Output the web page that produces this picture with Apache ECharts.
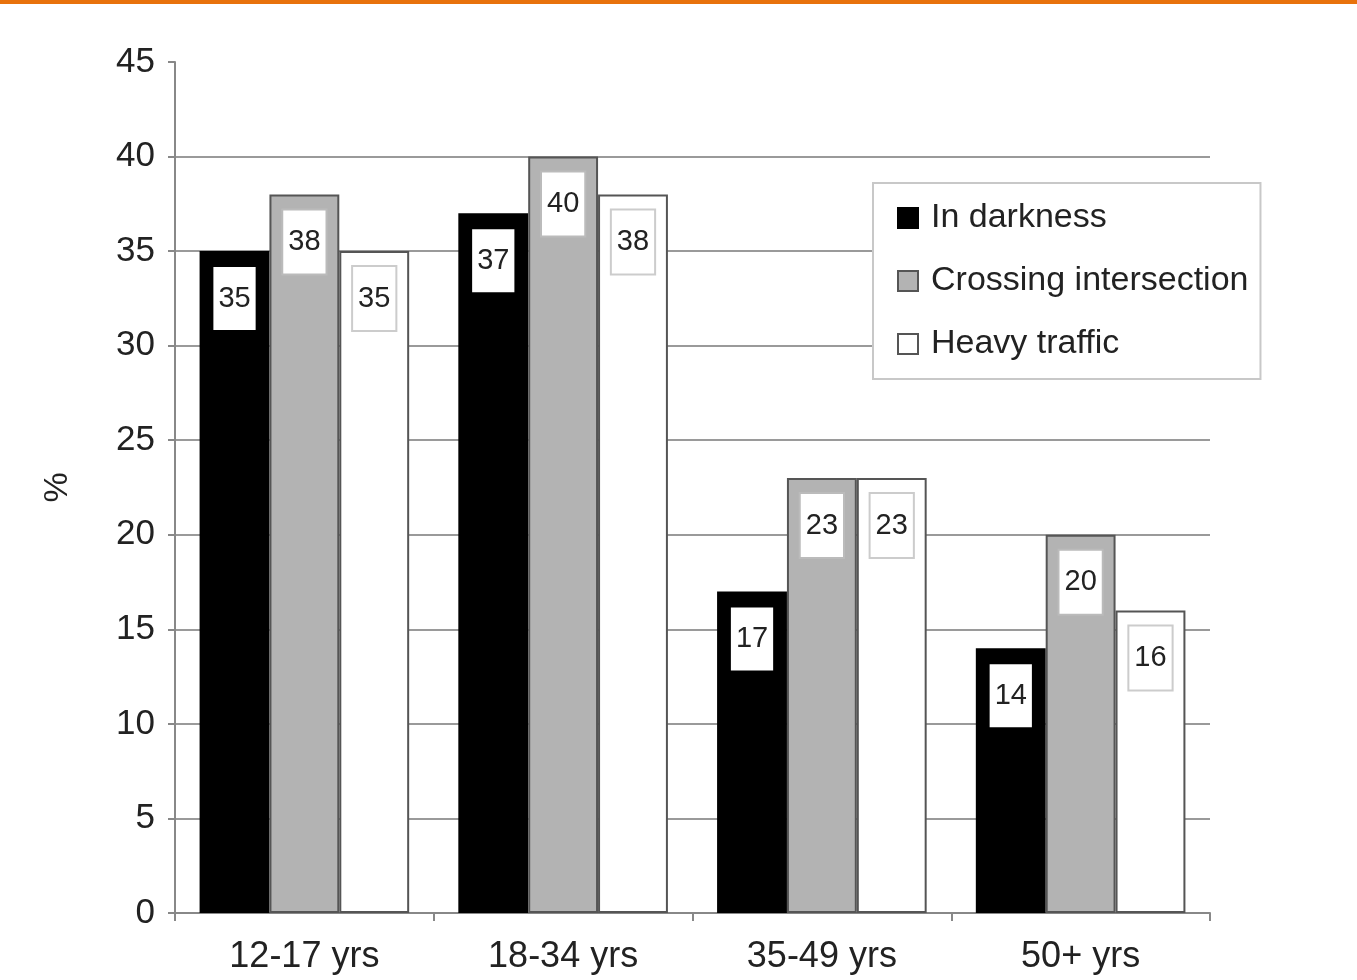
<!DOCTYPE html>
<html>
<head>
<meta charset="utf-8">
<script src="https://cdn.jsdelivr.net/npm/echarts@6/dist/echarts.min.js"></script>
<style>
  html, body { margin: 0; padding: 0; background: #fff; }
</style>
</head>
<body>
<div id="main" style="width:1357px;height:980px"></div>
<script>
// categories and values
var categories = ['12-17 yrs', '18-34 yrs', '35-49 yrs', '50+ yrs']
var darkness = [35, 37, 17, 14] // In darkness
var crossing = [38, 40, 23, 20] // Crossing intersection
var traffic = [35, 38, 23, 16] // Heavy traffic
var yTicks = [0, 5, 10, 15, 20, 25, 30, 35, 40, 45]

var font = 'Liberation Sans, Arial, sans-serif'

// no grid line at the top tick
var gridColors = yTicks.map(function (v, i) {
  return i === yTicks.length - 1 ? 'transparent' : '#9a9a9a'
})

function labelStyle (border) {
  return {
    show: true,
    position: 'insideTop',
    distance: 16,
    color: '#222',
    fontFamily: font,
    fontSize: 29,
    backgroundColor: '#fff',
    borderColor: border,
    borderWidth: border === 'transparent' ? 0 : 2,
    padding: [17, 5, 17, 5]
  }
}

var myChart = echarts.init(document.getElementById('main'))
var option = {
  animation: false,
  backgroundColor: '#fff',
  graphic: [
    {
      type: 'rect',
      left: 0,
      top: 0,
      shape: { width: 1357, height: 4 },
      style: { fill: '#e8720c' }
    }
  ],
  grid: {
    left: 175,
    right: 147,
    top: 62,
    bottom: 67
  },
  legend: {
    orient: 'vertical',
    left: 873,
    top: 183,
    width: 389,
    padding: [15, 12, 15, 24],
    itemGap: 23,
    itemWidth: 20,
    itemHeight: 20,
    backgroundColor: '#fff',
    borderColor: '#c8c8c8',
    borderWidth: 2,
    icon: 'rect',
    textStyle: {
      color: '#222',
      fontFamily: font,
      fontSize: 34,
      lineHeight: 40,
      padding: [0, 0, 0, 8]
    },
    data: ['In darkness', 'Crossing intersection', 'Heavy traffic']
  },
  xAxis: {
    type: 'category',
    data: categories,
    axisLine: { lineStyle: { color: '#888', width: 2 } },
    axisTick: { show: true, length: 8, lineStyle: { color: '#888', width: 2 } },
    axisLabel: {
      color: '#222',
      fontFamily: font,
      fontSize: 36,
      margin: 26
    }
  },
  yAxis: {
    type: 'value',
    min: yTicks[0],
    max: yTicks[yTicks.length - 1],
    interval: 5,
    name: '%',
    nameLocation: 'middle',
    nameRotate: 90,
    nameGap: 100,
    nameTextStyle: { color: '#222', fontFamily: font, fontSize: 34 },
    axisLine: { show: true, lineStyle: { color: '#888', width: 2 } },
    axisTick: { show: true, length: 7, lineStyle: { color: '#888', width: 2 } },
    axisLabel: {
      color: '#222',
      fontFamily: font,
      fontSize: 35,
      margin: 20
    },
    splitLine: { show: true, lineStyle: { color: gridColors, width: 2 } }
  },
  series: [
    {
      name: 'In darkness',
      type: 'bar',
      barGap: '0%',
      barCategoryGap: '19%',
      itemStyle: { color: '#000', borderColor: '#000', borderWidth: 2 },
      label: labelStyle('transparent'),
      data: darkness
    },
    {
      name: 'Crossing intersection',
      type: 'bar',
      barGap: '0%',
      barCategoryGap: '19%',
      itemStyle: { color: '#b3b3b3', borderColor: '#555', borderWidth: 2 },
      label: labelStyle('#bbb'),
      data: crossing
    },
    {
      name: 'Heavy traffic',
      type: 'bar',
      barGap: '0%',
      barCategoryGap: '19%',
      itemStyle: { color: '#fff', borderColor: '#555', borderWidth: 2 },
      label: labelStyle('#ccc'),
      data: traffic
    }
  ]
}
myChart.setOption(option)
</script>
</body>
</html>
